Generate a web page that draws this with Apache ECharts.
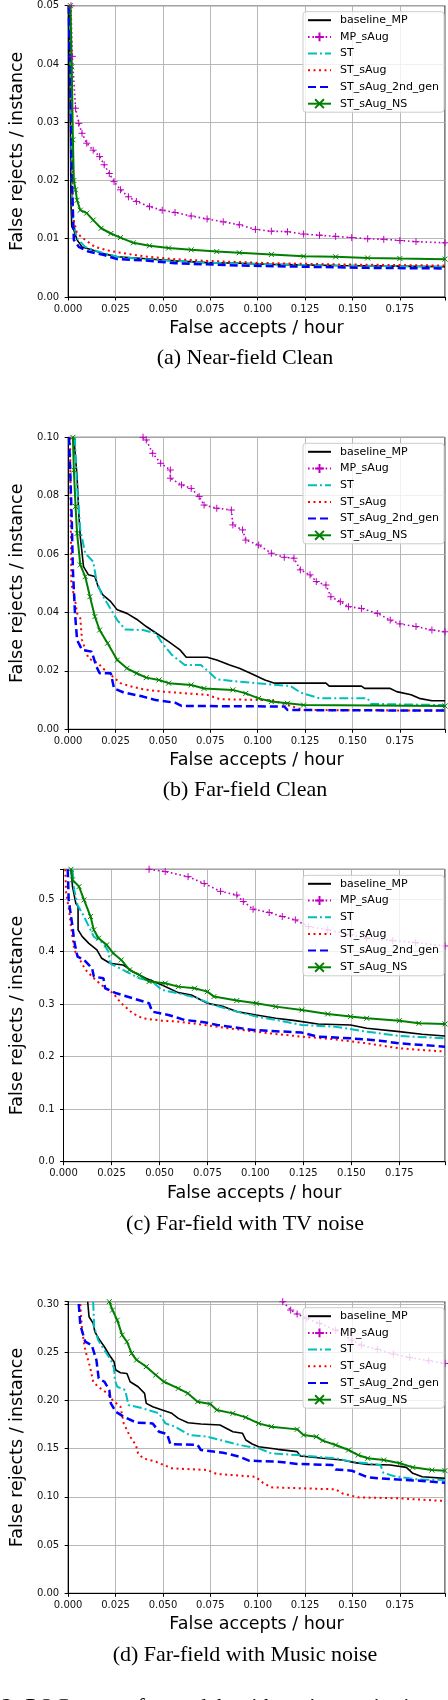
<!DOCTYPE html>
<html><head><meta charset="utf-8">
<script src="https://cdn.jsdelivr.net/npm/echarts@6/dist/echarts.min.js"></script>
<style>html,body{margin:0;padding:0;background:#fff}#c{width:448px;height:1700px}</style>
</head><body><div id="c"></div>
<script>
// ---------- DATA (x: false accepts / hour, y: false rejects / instance) ----------
const seriesNames = ['baseline_MP','MP_sAug','ST','ST_sAug','ST_sAug_2nd_gen','ST_sAug_NS'];
const captions = ['(a) Near-field Clean','(b) Far-field Clean','(c) Far-field with TV noise','(d) Far-field with Music noise'];
const xTickStep = 0.025;
const yMaxByPanel = [0.05, 0.10, 0.557, 0.3024];
const yStepByPanel = [0.01, 0.02, 0.1, 0.05];
const yDecimalsByPanel = [2, 2, 1, 2];

// (a) Near-field Clean
const nearClean_baseline_MP = [[0.0006,0.05],[0.0015,0.016],[0.0019,0.0121],[0.003,0.0115],[0.0047,0.0098],[0.0073,0.0086],[0.0124,0.0081],[0.019,0.0074],[0.0259,0.0069],[0.0395,0.0066],[0.0564,0.0062],[0.0733,0.0059],[0.0903,0.0058],[0.1072,0.0056],[0.1411,0.0054],[0.175,0.0053],[0.1988,0.0052]];
const nearClean_MP_sAug = [[0.0015,0.05],[0.0022,0.0413],[0.0039,0.0324],[0.0056,0.0298],[0.0073,0.0281],[0.0098,0.0264],[0.0132,0.0252],[0.0166,0.0241],[0.019,0.0227],[0.0217,0.0212],[0.0242,0.0198],[0.0276,0.0184],[0.0318,0.0172],[0.036,0.0164],[0.0429,0.0155],[0.0496,0.0149],[0.0564,0.0145],[0.0649,0.0139],[0.0733,0.0134],[0.0818,0.0129],[0.0903,0.0124],[0.0988,0.0116],[0.1072,0.0113],[0.1157,0.0112],[0.1242,0.0108],[0.1326,0.0106],[0.1411,0.0104],[0.1496,0.0102],[0.158,0.0100],[0.1665,0.0099],[0.175,0.0097],[0.1835,0.0095],[0.1988,0.0093]];
const nearClean_ST = [[0.0008,0.05],[0.0019,0.02],[0.0025,0.013],[0.0047,0.0101],[0.009,0.0086],[0.0158,0.0078],[0.0259,0.0069],[0.0395,0.0065],[0.0733,0.0059],[0.1242,0.0055],[0.1988,0.0052]];
const nearClean_ST_sAug = [[0.0012,0.05],[0.0019,0.035],[0.0025,0.0138],[0.0047,0.0109],[0.009,0.0098],[0.0141,0.0086],[0.0208,0.008],[0.0276,0.0076],[0.0395,0.007],[0.0564,0.0065],[0.0733,0.0062],[0.1072,0.0058],[0.1411,0.0056],[0.1988,0.0054]];
const nearClean_ST_sAug_2nd_gen = [[0.0003,0.05],[0.0015,0.03],[0.0022,0.0178],[0.003,0.0098],[0.0056,0.0086],[0.0107,0.0078],[0.019,0.0072],[0.0259,0.0065],[0.0395,0.0063],[0.0564,0.0058],[0.0903,0.0054],[0.1242,0.0052],[0.158,0.005],[0.1988,0.0049]];
const nearClean_ST_sAug_NS = [[0.0012,0.05],[0.0019,0.0395],[0.0025,0.027],[0.003,0.02],[0.0039,0.0184],[0.0047,0.0166],[0.0064,0.0149],[0.0098,0.0144],[0.0132,0.0132],[0.0174,0.0118],[0.0225,0.0109],[0.0276,0.0102],[0.0344,0.0093],[0.0429,0.0088],[0.053,0.0084],[0.0649,0.0081],[0.0784,0.0078],[0.0903,0.0076],[0.1072,0.0073],[0.1242,0.007],[0.1411,0.0069],[0.158,0.0067],[0.175,0.0066],[0.1988,0.0065]];

// (b) Far-field Clean
const farClean_baseline_MP = [[0.0030,0.10],[0.0047,0.0865],[0.0056,0.074],[0.0064,0.066],[0.0081,0.0557],[0.0107,0.0529],[0.0141,0.0523],[0.0158,0.0489],[0.0183,0.046],[0.0225,0.0437],[0.0259,0.0409],[0.031,0.0397],[0.0361,0.0377],[0.0412,0.0352],[0.0479,0.0323],[0.053,0.03],[0.059,0.0272],[0.0623,0.0247],[0.0733,0.0247],[0.0784,0.0237],[0.0852,0.022],[0.0903,0.0209],[0.0962,0.0192],[0.1038,0.0169],[0.1089,0.0158],[0.136,0.0158],[0.1377,0.0148],[0.1547,0.0148],[0.1564,0.014],[0.1699,0.014],[0.1733,0.0129],[0.1809,0.0118],[0.1852,0.0106],[0.1919,0.0098],[0.1988,0.0098]];
const farClean_MP_sAug = [[0.0395,0.10],[0.0412,0.0991],[0.0446,0.0945],[0.0488,0.0911],[0.0539,0.0888],[0.0539,0.086],[0.0598,0.0837],[0.0649,0.0825],[0.0691,0.0797],[0.0717,0.0768],[0.0784,0.0757],[0.0861,0.0751],[0.0869,0.07],[0.092,0.0683],[0.0937,0.0648],[0.1005,0.0631],[0.1072,0.0603],[0.114,0.0589],[0.1191,0.0586],[0.1225,0.0546],[0.1276,0.0529],[0.1309,0.0506],[0.136,0.0494],[0.1386,0.0454],[0.1436,0.0437],[0.1479,0.042],[0.1547,0.0414],[0.1631,0.0397],[0.1699,0.0374],[0.175,0.0361],[0.1835,0.0352],[0.1919,0.034],[0.1988,0.0334]];
const farClean_ST = [[0.0035,0.10],[0.0047,0.0831],[0.0064,0.0683],[0.009,0.0603],[0.0132,0.0574],[0.0149,0.0511],[0.0174,0.0466],[0.0217,0.042],[0.0259,0.0374],[0.0301,0.0342],[0.0395,0.034],[0.0462,0.0329],[0.0496,0.0295],[0.0547,0.0255],[0.0615,0.022],[0.07,0.022],[0.075,0.0192],[0.0784,0.0171],[0.0988,0.0158],[0.1174,0.0148],[0.1225,0.0126],[0.1326,0.0106],[0.158,0.0106],[0.1597,0.0087],[0.1988,0.0083]];
const farClean_ST_sAug = [[0.0010,0.10],[0.0014,0.07],[0.0017,0.05],[0.0039,0.0432],[0.0047,0.0397],[0.0064,0.038],[0.0073,0.0306],[0.0107,0.0243],[0.0158,0.0226],[0.0183,0.0209],[0.0225,0.0186],[0.0276,0.0158],[0.0327,0.0148],[0.0395,0.0137],[0.0496,0.0129],[0.0733,0.0118],[0.0801,0.0103],[0.1072,0.01],[0.1157,0.0083],[0.1242,0.0066],[0.1988,0.0064]];
const farClean_ST_sAug_2nd_gen = [[0.0005,0.10],[0.0019,0.0717],[0.0025,0.0546],[0.0036,0.0397],[0.0047,0.0306],[0.0073,0.0272],[0.0124,0.0266],[0.0149,0.0215],[0.0166,0.0192],[0.0225,0.0192],[0.0242,0.014],[0.0293,0.0126],[0.0395,0.0112],[0.0462,0.01],[0.0564,0.0091],[0.0598,0.008],[0.114,0.0078],[0.1157,0.0066],[0.1988,0.0064]];
const farClean_ST_sAug_NS = [[0.0025,0.10],[0.003,0.0888],[0.0039,0.0763],[0.0047,0.0671],[0.0064,0.0563],[0.009,0.0523],[0.0115,0.0454],[0.0141,0.0386],[0.0166,0.034],[0.0208,0.0295],[0.0259,0.0237],[0.031,0.0209],[0.0361,0.0192],[0.0412,0.0177],[0.0479,0.0169],[0.053,0.0158],[0.0649,0.0152],[0.0717,0.014],[0.0869,0.0135],[0.0937,0.0123],[0.1005,0.0106],[0.1072,0.0095],[0.1157,0.0089],[0.1242,0.0083],[0.1988,0.008]];

// (c) Far-field with TV noise
const tvNoise_baseline_MP = [[0.0039,0.557],[0.0047,0.524],[0.0064,0.4924],[0.0076,0.486],[0.0076,0.4416],[0.0098,0.4288],[0.0132,0.416],[0.0174,0.4034],[0.0199,0.3875],[0.0242,0.378],[0.031,0.3748],[0.0361,0.362],[0.0429,0.3494],[0.0513,0.3367],[0.0598,0.3221],[0.0666,0.3177],[0.075,0.3018],[0.0835,0.2954],[0.0903,0.2859],[0.1005,0.2795],[0.1106,0.2732],[0.1208,0.2687],[0.1326,0.2624],[0.1496,0.2605],[0.158,0.2541],[0.175,0.2478],[0.1868,0.2427],[0.1988,0.2395]];
const tvNoise_MP_sAug = [[0.0446,0.557],[0.053,0.5527],[0.0649,0.543],[0.0733,0.53],[0.0818,0.515],[0.0903,0.508],[0.0937,0.4956],[0.0988,0.481],[0.1072,0.4746],[0.114,0.467],[0.1208,0.4606],[0.1276,0.448],[0.1377,0.4416],[0.1496,0.432],[0.158,0.4257],[0.1716,0.4212],[0.1835,0.4174],[0.1988,0.411]];
const tvNoise_ST = [[0.0047,0.557],[0.0056,0.5178],[0.0073,0.4892],[0.0107,0.467],[0.0132,0.448],[0.0158,0.4288],[0.0208,0.416],[0.0234,0.4003],[0.0242,0.378],[0.031,0.3653],[0.0395,0.3494],[0.0462,0.3431],[0.0513,0.3272],[0.0598,0.3208],[0.07,0.3113],[0.0767,0.3005],[0.0869,0.2891],[0.1005,0.2764],[0.1106,0.27],[0.1242,0.2605],[0.1411,0.2573],[0.158,0.2478],[0.175,0.2395],[0.1988,0.2351]];
const tvNoise_ST_sAug = [[0.0009,0.557],[0.0014,0.5114],[0.003,0.4765],[0.0039,0.4479],[0.0056,0.4034],[0.0081,0.3875],[0.0115,0.3653],[0.0158,0.3494],[0.0208,0.3335],[0.0259,0.3208],[0.0301,0.3018],[0.0361,0.2827],[0.0412,0.2732],[0.0513,0.2687],[0.0598,0.2668],[0.0733,0.2605],[0.0903,0.2522],[0.1072,0.2446],[0.1242,0.2382],[0.1411,0.2332],[0.158,0.2255],[0.175,0.216],[0.1988,0.2097]];
const tvNoise_ST_sAug_2nd_gen = [[0.0022,0.557],[0.0027,0.4987],[0.0047,0.4479],[0.0056,0.4193],[0.0073,0.3907],[0.0107,0.3844],[0.0149,0.3685],[0.0158,0.3526],[0.0208,0.3494],[0.0217,0.3304],[0.0276,0.3208],[0.0361,0.3113],[0.0446,0.3018],[0.0462,0.2859],[0.0547,0.2795],[0.0632,0.27],[0.0733,0.2656],[0.0801,0.2605],[0.0988,0.251],[0.1242,0.2459],[0.1326,0.2382],[0.1496,0.2351],[0.1648,0.2306],[0.175,0.2255],[0.1988,0.2192]];
const tvNoise_ST_sAug_NS = [[0.0039,0.557],[0.0047,0.5368],[0.0081,0.5241],[0.0107,0.4987],[0.0141,0.467],[0.0158,0.4416],[0.0183,0.4257],[0.0225,0.413],[0.0259,0.3971],[0.0301,0.3844],[0.0344,0.3653],[0.0395,0.3558],[0.0446,0.3431],[0.053,0.3399],[0.0598,0.3335],[0.0683,0.3304],[0.075,0.324],[0.0784,0.3145],[0.0903,0.3069],[0.1005,0.3018],[0.1106,0.2954],[0.1242,0.2891],[0.1377,0.2815],[0.1496,0.2764],[0.158,0.2732],[0.175,0.2687],[0.1852,0.2637],[0.1988,0.2624]];

// (d) Far-field with Music noise
const musicNoise_baseline_MP = [[0.0103,0.3024],[0.011,0.2868],[0.0132,0.2799],[0.0141,0.2712],[0.0166,0.2626],[0.0191,0.2557],[0.0217,0.2471],[0.0242,0.2402],[0.0251,0.2315],[0.0276,0.2287],[0.031,0.228],[0.0327,0.2194],[0.0369,0.2142],[0.0403,0.2073],[0.0412,0.197],[0.0446,0.1935],[0.0496,0.19],[0.0547,0.1866],[0.0581,0.1814],[0.0632,0.1769],[0.07,0.1755],[0.0801,0.1745],[0.0869,0.1676],[0.092,0.1659],[0.0937,0.159],[0.0971,0.1548],[0.1005,0.152],[0.1106,0.1493],[0.1208,0.1469],[0.1225,0.1424],[0.1343,0.14],[0.1445,0.1382],[0.1513,0.1355],[0.158,0.1337],[0.1699,0.133],[0.1784,0.1306],[0.1818,0.1244],[0.1868,0.1209],[0.1988,0.1192]];
const musicNoise_MP_sAug = [[0.1132,0.3024],[0.1174,0.2937],[0.1208,0.2896],[0.1259,0.2851],[0.1326,0.2799],[0.1411,0.273],[0.1496,0.2626],[0.1547,0.2574],[0.1631,0.2529],[0.1716,0.2481],[0.1801,0.2446],[0.1902,0.2412],[0.1988,0.2384]];
const musicNoise_ST = [[0.0132,0.3024],[0.0137,0.2764],[0.0158,0.2626],[0.0191,0.2522],[0.0225,0.2419],[0.0242,0.2332],[0.0246,0.2211],[0.0259,0.2142],[0.0301,0.2108],[0.0318,0.1952],[0.0395,0.1918],[0.0479,0.1866],[0.0513,0.1762],[0.0564,0.1728],[0.064,0.1641],[0.0733,0.1624],[0.0801,0.159],[0.0903,0.1538],[0.1005,0.1503],[0.1072,0.1451],[0.1208,0.1434],[0.1411,0.14],[0.1496,0.1365],[0.158,0.1348],[0.1648,0.133],[0.1662,0.1251],[0.1716,0.1216],[0.1835,0.1182],[0.1988,0.1175]];
const musicNoise_ST_sAug = [[0.0064,0.3],[0.0073,0.273],[0.009,0.2522],[0.0115,0.235],[0.0132,0.2194],[0.0158,0.2142],[0.0208,0.2073],[0.0234,0.2004],[0.0276,0.1935],[0.0293,0.1762],[0.0327,0.1624],[0.0357,0.1538],[0.0369,0.1451],[0.0395,0.14],[0.0462,0.1365],[0.0505,0.133],[0.0547,0.1296],[0.0733,0.1279],[0.0784,0.1237],[0.0988,0.1209],[0.1031,0.114],[0.1072,0.1099],[0.1411,0.1078],[0.1445,0.1037],[0.153,0.0995],[0.175,0.0985],[0.1835,0.0974],[0.1988,0.0957]];
const musicNoise_ST_sAug_2nd_gen = [[0.0056,0.3],[0.0064,0.2782],[0.009,0.2609],[0.0124,0.2574],[0.0149,0.2419],[0.0161,0.2229],[0.0191,0.2194],[0.0217,0.2108],[0.0225,0.197],[0.0251,0.1883],[0.0293,0.1831],[0.0361,0.1769],[0.0446,0.1762],[0.0479,0.1676],[0.0522,0.1652],[0.0539,0.1548],[0.0683,0.1538],[0.07,0.1486],[0.0818,0.1458],[0.0903,0.1417],[0.0954,0.1375],[0.1106,0.1365],[0.1208,0.1341],[0.1394,0.133],[0.1411,0.1285],[0.1496,0.1272],[0.153,0.1244],[0.158,0.1202],[0.1716,0.1182],[0.1852,0.1168],[0.1988,0.1147]];
const musicNoise_ST_sAug_NS = [[0.0217,0.3024],[0.0234,0.2937],[0.0259,0.2833],[0.0285,0.2678],[0.031,0.2609],[0.0335,0.2488],[0.0361,0.2419],[0.0412,0.235],[0.0462,0.2263],[0.0505,0.2194],[0.0581,0.2125],[0.0632,0.2073],[0.0683,0.1987],[0.075,0.1963],[0.0784,0.19],[0.0869,0.1866],[0.0937,0.1824],[0.1005,0.1762],[0.1072,0.1728],[0.1208,0.17],[0.1242,0.1641],[0.1309,0.1624],[0.1343,0.1583],[0.1411,0.1538],[0.1479,0.1486],[0.153,0.1434],[0.158,0.14],[0.1665,0.1382],[0.175,0.1348],[0.1818,0.1306],[0.1919,0.1278],[0.1988,0.1272]];

const panels = [
  [nearClean_baseline_MP, nearClean_MP_sAug, nearClean_ST, nearClean_ST_sAug, nearClean_ST_sAug_2nd_gen, nearClean_ST_sAug_NS],
  [farClean_baseline_MP, farClean_MP_sAug, farClean_ST, farClean_ST_sAug, farClean_ST_sAug_2nd_gen, farClean_ST_sAug_NS],
  [tvNoise_baseline_MP, tvNoise_MP_sAug, tvNoise_ST, tvNoise_ST_sAug, tvNoise_ST_sAug_2nd_gen, tvNoise_ST_sAug_NS],
  [musicNoise_baseline_MP, musicNoise_MP_sAug, musicNoise_ST, musicNoise_ST_sAug, musicNoise_ST_sAug_2nd_gen, musicNoise_ST_sAug_NS]
];

// ---------- LAYOUT / STYLE ----------
const X_MAX = 0.1988;
const gridTops = [5.7, 437.3, 869.3, 1301.7];
const gridHeights = [291.3, 292, 292.4, 291.6];
const GRID_LEFT = 55.7, GRID_WIDTH = 391.5;
const captionY = [358, 790, 1224, 1655];
const PLUS = 'path://M5,0L5,10M0,5L10,5';
const CROSS = 'path://M0,0L10,10M10,0L0,10';
const NOMARK = 'path://M0,0L10,10';   // zero-area path: invisible when only filled
const styles = {
  baseline_MP:     {color:'#000000', width:1.6, type:'solid', symbol:null},
  MP_sAug:         {color:'#bf00bf', width:1.6, type:[1.6,2.8], symbol:PLUS, size:7},
  ST:              {color:'#00bfbf', width:2,   type:[9,3,2,3], symbol:null},
  ST_sAug:         {color:'#ff0000', width:2,   type:[2,3.5], symbol:null},
  ST_sAug_2nd_gen: {color:'#0000ff', width:2.5, type:[8,4], symbol:null},
  ST_sAug_NS:      {color:'#008000', width:2,   type:'solid', symbol:CROSS, size:5}
};
const FONT = 'DejaVu Sans';
function onStep(v, step){ const r = v/step; return Math.abs(r - Math.round(r)) < 1e-6; }

const grids = [], xAxes = [], yAxes = [], series = [], legends = [];
for (let g = 0; g < 4; g++) {
  grids.push({left:GRID_LEFT, top:gridTops[g], width:GRID_WIDTH, height:gridHeights[g],
    show:true, borderColor:'#000', borderWidth:1, backgroundColor:'transparent', containLabel:false});
  xAxes.push({type:'value', gridIndex:g, min:0, max:X_MAX, interval:xTickStep,
    name:'False accepts / hour', nameLocation:'middle', nameGap:22.5,
    nameTextStyle:{fontFamily:FONT, fontSize:17.5, color:'#000'},
    axisLine:{show:true, onZero:false, lineStyle:{color:'#000', width:1}},
    axisTick:{show:true, length:3.5, lineStyle:{color:'#000', width:1}},
    axisLabel:{fontFamily:FONT, fontSize:10, color:'#111', margin:7, hideOverlap:false,
      formatter:(v)=> onStep(v, xTickStep) ? v.toFixed(3) : ''},
    splitLine:{show:true, lineStyle:{color:'#b0b0b0', width:0.9}}});
  const ys = yStepByPanel[g], yd = yDecimalsByPanel[g];
  yAxes.push({type:'value', gridIndex:g, min:0, max:yMaxByPanel[g], interval:ys,
    name:'False rejects / instance', nameLocation:'middle', nameGap:37.5,
    nameTextStyle:{fontFamily:FONT, fontSize:17.5, color:'#000'},
    axisLine:{show:true, onZero:false, lineStyle:{color:'#000', width:1}},
    axisTick:{show:true, length:3.5, lineStyle:{color:'#000', width:1}},
    axisLabel:{fontFamily:FONT, fontSize:10, color:'#111', margin:9, hideOverlap:false,
      formatter:(v)=> onStep(v, ys) ? v.toFixed(yd) : ''},
    splitLine:{show:true, lineStyle:{color:'#b0b0b0', width:0.9}}});
  seriesNames.forEach((name, k) => {
    const s = styles[name];
    const hasMark = !!s.symbol;
    series.push({type:'line', name, xAxisIndex:g, yAxisIndex:g, data:panels[g][k],
      symbol:hasMark ? s.symbol : NOMARK, symbolSize:hasMark ? s.size : 4,
      showSymbol:hasMark, showAllSymbol:true,
      clip:true, animation:false, silent:true,
      lineStyle:{color:s.color, width:s.width, type:s.type, cap:'butt'},
      itemStyle:{color:s.color, borderColor:s.color, borderWidth:hasMark ? 1 : 0},
      emphasis:{disabled:true}});
  });
  legends.push({data:seriesNames.slice(), orient:'vertical', left:303, top:gridTops[g] + 6,
    itemWidth:23, itemHeight:11, itemGap:5.7, padding:[3,5,3,4],
    backgroundColor:'rgba(255,255,255,0.8)', borderColor:'#cccccc', borderWidth:1, borderRadius:3,
    textStyle:{fontFamily:FONT, fontSize:11, color:'#000', padding:[0,0,0,4]},
    selectedMode:false});
}

const graphics = captions.map((t, i) => ({type:'text', x:245, y:captionY[i], silent:true,
  style:{text:t, font:'22px "Liberation Serif"', fill:'#000', align:'center', verticalAlign:'middle'}}));
graphics.push({type:'text', x:0, y:1696, silent:true,
  style:{text:'2: ROC curves for models with various noise in', font:'italic 22px "Liberation Serif"', fill:'#000', align:'left', verticalAlign:'top'}});

const chart = echarts.init(document.getElementById('c'), null, {renderer:'canvas', width:448, height:1700});
chart.setOption({
  animation:false,
  backgroundColor:'#ffffff',
  grid:grids, xAxis:xAxes, yAxis:yAxes, series, legend:legends, graphic:graphics,
  tooltip:{show:false}
});
</script>
</body></html>
